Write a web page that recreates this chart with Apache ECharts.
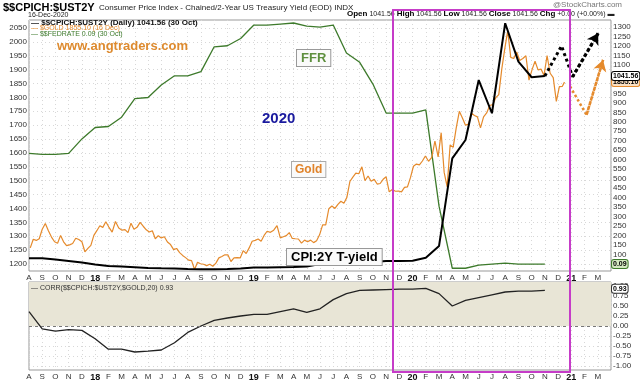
<!DOCTYPE html>
<html><head><meta charset="utf-8">
<script src="https://cdn.jsdelivr.net/npm/echarts@6/dist/echarts.min.js"></script>
<style>html,body{margin:0;padding:0;background:#fff}#c{width:640px;height:382px}</style>
</head><body><div id="c"></div>
<script>
// ---------- data ----------
const monthLetters = ['J','F','M','A','M','J','J','A','S','O','N','D']; // axis tick labels
const goldTicks = [1200,1250,1300,1350,1400,1450,1500,1550,1600,1650,1700,1750,1800,1850,1900,1950,2000,2050];
const ratioTicks = [50,100,150,200,250,300,350,400,450,500,550,600,650,700,750,800,850,900,950,1000,1050,1100,1150,1200,1250,1300];
const corrTicks = [-1,-0.75,-0.5,-0.25,0,0.25,0.5,0.75,1];
// monthly series, month 0 = Aug 2017
const ratioValues = [80,80,74,66,58,47,39,36,33,29,27,26,23,22,22,23,26,31,31,33,34,36,50,58,60,60,60,66,66,67,83,145,607,704,1020,845,1320,1117,1035,1041.56];
const ffrValues = [1.16,1.15,1.15,1.16,1.30,1.41,1.42,1.51,1.69,1.70,1.82,1.91,1.91,1.95,2.19,2.20,2.27,2.40,2.40,2.41,2.42,2.39,2.38,2.40,2.13,2.04,1.83,1.55,1.55,1.55,1.58,0.65,0.05,0.05,0.08,0.09,0.10,0.09,0.09,0.09];
const corrValues = [0.36,-0.07,-0.13,-0.09,-0.11,-0.32,-0.58,-0.58,-0.65,-0.63,-0.60,-0.42,-0.16,0.00,0.14,0.20,0.25,0.29,0.29,0.36,0.43,0.34,0.43,0.66,0.81,0.89,0.90,0.91,0.92,0.92,0.94,0.81,0.50,0.64,0.71,0.78,0.85,0.87,0.87,0.89];
// weekly gold closes from 2017-08-04
const goldStart = '2017-08-04';
const goldWeekly = [
 1258,1289,1285,1291, 1325,1346,1320,1297,1280, 1275,1303,1280,1266, 1269,1274,1293,1288, 1280,1244,1256,1267,1303,
 1320,1338,1332,1352, 1333,1315,1353,1330, 1322,1324,1313,1347,1325, 1332,1350,1336,1323, 1315,1320,1291,1302, 1294,1298,1279,1270,1252, 1256,1241,1231,1223, 1214,1212,1180,1206,1201, 1199,1194,1199,1192, 1203,1222,1227,1233, 1233,1209,1222,1223,1222, 1248,1238,1258,1282,
 1285,1290,1282,1303, 1318,1314,1322,1338, 1294,1298,1302,1313,1292, 1291,1290,1275,1286, 1280,1286,1277,1284,1305, 1341,1341,1399,1409, 1400,1415,1426,1419, 1440,1497,1513,1527,1525, 1550,1500,1517,1498, 1505,1488,1490,1505, 1514,1460,1468,1462,1463, 1460,1476,1478,1511,
 1552,1560,1557,1571,1589, 1570,1584,1643,1586, 1673,1530,1478,1629, 1620,1690,1750,1726, 1700,1704,1743,1735,1730, 1690,1730,1744,1771, 1774,1799,1810,1902,1975, 2040,1944,1940,1964, 1933,1940,1950,1862, 1900,1930,1899,1902,1879, 1951,1887,1871,1786, 1839,1840
];
const goldLastDate = '2020-12-16';
const goldLast = 1855.10;
// hand-drawn forecast arrows [month index, value]
const ratioForecast = [[39,1041.56],[40.26,1200],[41.1,1038],[43.03,1267]];
const goldForecast = [[40.9,1840],[42.15,1737],[43.4,1935]];

// ---------- helpers ----------
function mIdx(d){
  const y=d.getUTCFullYear(), mo=d.getUTCMonth();
  const dim=new Date(Date.UTC(y,mo+1,0)).getUTCDate();
  return (y-2017)*12+mo-7+(d.getUTCDate()-1)/dim;
}
const sd = new Date(goldStart+'T00:00:00Z');
const goldData = goldWeekly.map((v,i)=>[mIdx(new Date(sd.getTime()+i*7*86400000)),v]);
goldData.push([mIdx(new Date(goldLastDate+'T00:00:00Z')),goldLast]);
const ratioData = ratioValues.map((v,i)=>[i,v]);
const ffrData = ffrValues.map((v,i)=>[i,v]);
const corrData = corrValues.map((v,i)=>[i,v]);

const FONT = 'Arial, "Liberation Sans", sans-serif';
function monthFmt(v){
  if (v>=44) return '';
  const mm=((Math.round(v)+7)%12);
  if (mm===0){ const yy=17+Math.floor((Math.round(v)+7)/12); return '{y|'+yy+'}'; }
  return monthLetters[mm];
}
const xCommon = {type:'value',min:0,max:44,interval:1,
  axisLine:{show:false},axisTick:{show:false},
  axisLabel:{formatter:monthFmt,fontSize:8,color:'#333',fontFamily:FONT,margin:3,showMaxLabel:false,
    rich:{y:{fontSize:9,fontWeight:'bold',color:'#111',fontFamily:FONT}}},
  splitLine:{show:true,lineStyle:{color:'#d8d8d8',type:[1,3]}}};

const HIDDEN = {color:'rgba(0,0,0,0)',width:0};
function tag(text,bg,border){
  return {show:true,position:'end',distance:1,formatter:text,fontSize:7,fontWeight:'bold',color:'#000',
    fontFamily:FONT,backgroundColor:bg,borderColor:border,borderWidth:1,padding:[1,1,0,1],borderRadius:2};
}

const chart = echarts.init(document.getElementById('c'),null,{renderer:'canvas'});
chart.setOption({
  animation:false,
  backgroundColor:'#fff',
  grid:[
    {left:29,right:29,top:20,height:251,show:true,borderColor:'#999',borderWidth:1,backgroundColor:'#fff'},
    {left:29,right:29,top:282,height:88,show:true,borderColor:'#999',borderWidth:1,backgroundColor:'#fff'}
  ],
  xAxis:[Object.assign({gridIndex:0},xCommon),Object.assign({gridIndex:1},xCommon)],
  yAxis:[
    {gridIndex:0,type:'value',position:'left',min:1174.8,max:2078.8,
      axisLine:{show:false},axisTick:{show:false,customValues:goldTicks},
      axisLabel:{customValues:goldTicks,fontSize:8,color:'#333',fontFamily:FONT,margin:2,formatter:v=>String(v)},
      splitLine:{show:true,lineStyle:{color:'#d8d8d8',type:[1,3]}}},
    {gridIndex:0,type:'value',position:'right',min:12.9,max:1336.9,
      axisLine:{show:false},axisTick:{show:false,customValues:ratioTicks},
      axisLabel:{customValues:ratioTicks,fontSize:8,color:'#333',fontFamily:FONT,margin:2,formatter:v=>String(v)},
      splitLine:{show:false}},
    {gridIndex:0,type:'value',min:0.0234,max:2.449,show:false},
    {gridIndex:1,type:'value',position:'right',min:-1.1,max:1.1,
      axisLine:{show:false},axisTick:{show:false,customValues:corrTicks},
      axisLabel:{customValues:corrTicks,fontSize:8,color:'#333',fontFamily:FONT,margin:2,formatter:v=>v.toFixed(2)},
      splitLine:{show:true,lineStyle:{color:'#d8d8d8',type:[1,3]}}}
  ],
  series:[
    {type:'line',name:'corr',xAxisIndex:1,yAxisIndex:3,data:corrData,symbol:'none',clip:false,
      lineStyle:{color:'#222',width:1.3},
      markArea:{silent:true,itemStyle:{color:'#e8e5d6'},data:[[{yAxis:0},{yAxis:1.1}]]},
      markLine:{silent:true,symbol:'none',data:[{yAxis:0,lineStyle:{color:'#777',type:[3,3],width:1},label:{show:false}},
        {yAxis:0.93,lineStyle:HIDDEN,label:tag('0.93','#fff','#333')}]}},
    {type:'line',name:'FFR',xAxisIndex:0,yAxisIndex:2,data:ffrData,symbol:'none',clip:false,
      lineStyle:{color:'#3d7a2b',width:1.3},
      markLine:{silent:true,symbol:'none',lineStyle:HIDDEN,data:[{yAxis:0.09,label:tag('0.09','#d3e8c0','#3d7a2b')}]}},
    {type:'line',name:'gold',xAxisIndex:0,yAxisIndex:0,data:goldData,symbol:'none',clip:false,
      lineStyle:{color:'#e58a2c',width:1.2},
      markLine:{silent:true,symbol:'none',lineStyle:HIDDEN,data:[{yAxis:goldLast,label:tag('1855.10','#fbe0c2','#e58a2c')}]}},
    {type:'line',name:'ratio',xAxisIndex:0,yAxisIndex:1,data:ratioData,symbol:'none',clip:false,
      lineStyle:{color:'#000',width:2},z:5,
      markLine:{silent:true,symbol:'none',lineStyle:HIDDEN,data:[{yAxis:ratioValues[ratioValues.length-1],label:tag('1041.56','#fff','#000')}]}},
    {type:'line',name:'ratioF',xAxisIndex:0,yAxisIndex:1,data:ratioForecast,symbol:'none',
      lineStyle:{color:'#000',width:3,type:'dotted'},z:6,
      markLine:{silent:true,symbol:['none','arrow'],symbolSize:[10,11],label:{show:false},
        lineStyle:{color:'#000',width:3,type:'dotted'},
        data:[[{coord:ratioForecast[ratioForecast.length-2]},{coord:ratioForecast[ratioForecast.length-1]}]]}},
    {type:'line',name:'goldF',xAxisIndex:0,yAxisIndex:0,data:goldForecast,symbol:'none',
      lineStyle:{color:'#e58a2c',width:2.5,type:'dotted'},z:6,
      markLine:{silent:true,symbol:['none','arrow'],symbolSize:[10,11],label:{show:false},
        lineStyle:{color:'#e58a2c',width:2.5,type:'dotted'},
        data:[[{coord:goldForecast[goldForecast.length-2]},{coord:goldForecast[goldForecast.length-1]}]]}}
  ],
  graphic:[
    {type:'text',z:10,style:{x:3,y:2,text:'$$CPICH:$UST2Y',font:'bold 11px '+FONT,fill:'#000'}},
    {type:'text',z:10,style:{x:99,y:4,text:'Consumer Price Index - Chained/2-Year US Treasury Yield (EOD) INDX',font:'8px '+FONT,fill:'#222'}},
    {type:'text',z:10,style:{x:28,y:12,text:'16-Dec-2020',font:'7px '+FONT,fill:'#222'}},
    {type:'text',z:10,style:{x:553,y:1,text:'@StockCharts.com',font:'8px '+FONT,fill:'#777'}},
    {type:'text',z:10,style:{x:347,y:10,text:'{b|Open} 1041.56 {b|High} 1041.56 {b|Low} 1041.56 {b|Close} 1041.56 {b|Chg} +0.00 (+0.00%) \u25AC',
      font:'7px '+FONT,fill:'#222',rich:{b:{font:'bold 8px '+FONT,fill:'#000'}}}},
    {type:'text',z:10,style:{x:31,y:19,text:'\u2014 $$CPICH:$UST2Y (Daily) 1041.56 (30 Oct)',font:'bold 8px '+FONT,fill:'#111'}},
    {type:'text',z:10,style:{x:31,y:25,text:'\u2014 $GOLD 1855.10 (16 Dec)',font:'7px '+FONT,fill:'#e58a2c'}},
    {type:'text',z:10,style:{x:31,y:31,text:'\u2014 $$FEDRATE 0.09 (30 Oct)',font:'7px '+FONT,fill:'#3d7a2b'}},
    {type:'text',z:10,style:{x:31,y:285,text:'\u2014 CORR($$CPICH:$UST2Y,$GOLD,20) 0.93',font:'7px '+FONT,fill:'#333'}},
    {type:'text',z:10,style:{x:57,y:40,text:'www.angtraders.com',font:'bold 13px '+FONT,fill:'#dd8a2e'}},
    {type:'text',z:10,style:{x:262,y:111,text:'2020',font:'bold 15px '+FONT,fill:'#1a1a9e'}},
    {type:'text',z:10,style:{x:297,y:50,text:'FFR',font:'bold 13px '+FONT,fill:'#5e8f3e',backgroundColor:'#fafafa',borderColor:'#999',borderWidth:1,padding:[2,4,1,4]}},
    {type:'text',z:10,style:{x:292,y:162,text:'Gold',font:'bold 12px '+FONT,fill:'#e0832a',backgroundColor:'#fafafa',borderColor:'#aaa',borderWidth:1,padding:[2,3,1,3]}},
    {type:'text',z:10,style:{x:287,y:249,text:'CPI:2Y T-yield',font:'bold 13px '+FONT,fill:'#000',backgroundColor:'#fafafa',borderColor:'#999',borderWidth:1,padding:[2,4,1,4]}},
    {type:'rect',z:20,shape:{x:393,y:10,width:177,height:362},style:{fill:'none',stroke:'#c63cc8',lineWidth:2}}
  ]
});
</script></body></html>
